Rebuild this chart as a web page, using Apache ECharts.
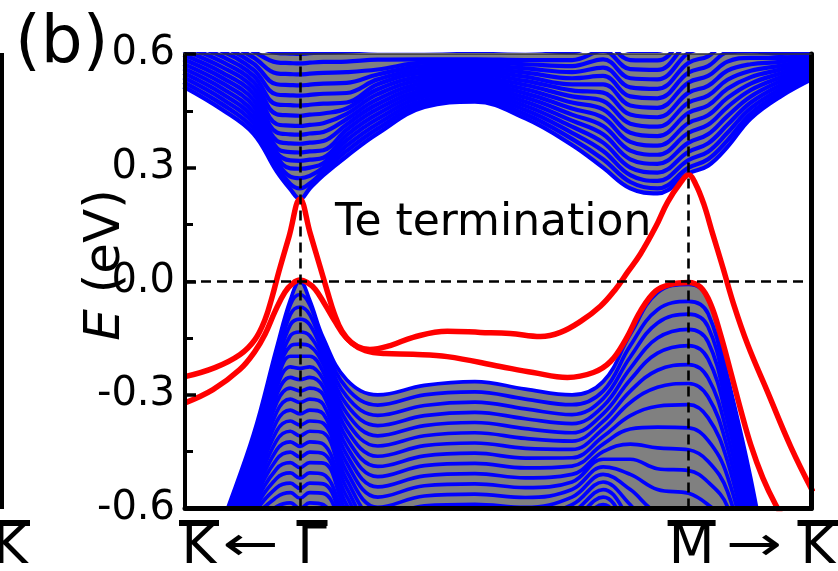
<!DOCTYPE html>
<html>
<head>
<meta charset="utf-8">
<script src="https://cdn.jsdelivr.net/npm/echarts@6/dist/echarts.min.js"></script>
<style>
  html, body { margin: 0; padding: 0; background: #fff; }
  #chart { width: 838px; height: 571px; }
</style>
</head>
<body>
<div id="chart"></div>
<script>
// Path coordinate along K̄ ← Γ̄ → M̄ → K̄ : Γ̄ = 0, M̄ = 1
const kMin = -0.296;
const kMax = 1.315;

// Sampling points along the path shared by all bulk bands
const kGrid = [-0.30, -0.20, -0.12, -0.06, -0.025, 0, 0.025, 0.06, 0.12, 0.20, 0.32, 0.45,
               0.58, 0.70, 0.78, 0.85, 0.92, 1.0, 1.05, 1.10, 1.16, 1.24, 1.32];

// Bulk valence sub-bands (eV), top band first
const valenceBands = [
  [-0.95,-0.64,-0.405,-0.175,-0.05,0,-0.05,-0.15,-0.26,-0.30,-0.275,-0.265,-0.285,-0.30,-0.265,-0.14,-0.03,-0.008,-0.045,-0.25,-0.52,-0.95,-1.3],
  [-0.96,-0.65,-0.417,-0.19,-0.062,-0.035,-0.062,-0.16,-0.282,-0.327,-0.30,-0.292,-0.311,-0.326,-0.29,-0.17,-0.075,-0.053,-0.085,-0.28,-0.55,-0.98,-1.33],
  [-0.97,-0.66,-0.429,-0.205,-0.088,-0.068,-0.088,-0.175,-0.304,-0.354,-0.328,-0.319,-0.337,-0.352,-0.31,-0.20,-0.11,-0.087,-0.12,-0.31,-0.58,-1.01,-1.36],
  [-0.98,-0.67,-0.441,-0.22,-0.115,-0.10,-0.115,-0.19,-0.326,-0.381,-0.355,-0.346,-0.363,-0.376,-0.33,-0.23,-0.15,-0.127,-0.16,-0.34,-0.61,-1.04,-1.39],
  [-0.99,-0.68,-0.453,-0.235,-0.144,-0.134,-0.144,-0.205,-0.348,-0.408,-0.381,-0.373,-0.389,-0.40,-0.35,-0.26,-0.19,-0.17,-0.205,-0.37,-0.64,-1.07,-1.42],
  [-1.0,-0.69,-0.465,-0.25,-0.171,-0.166,-0.171,-0.22,-0.37,-0.435,-0.408,-0.40,-0.415,-0.422,-0.37,-0.29,-0.235,-0.22,-0.255,-0.405,-0.67,-1.1,-1.45],
  [-1.01,-0.70,-0.477,-0.265,-0.198,-0.198,-0.198,-0.24,-0.392,-0.462,-0.434,-0.427,-0.441,-0.444,-0.39,-0.32,-0.28,-0.27,-0.305,-0.44,-0.70,-1.13,-1.48],
  [-1.02,-0.71,-0.489,-0.28,-0.226,-0.23,-0.226,-0.26,-0.414,-0.489,-0.461,-0.454,-0.467,-0.466,-0.41,-0.355,-0.33,-0.326,-0.36,-0.475,-0.73,-1.16,-1.51],
  [-1.03,-0.72,-0.501,-0.30,-0.254,-0.26,-0.254,-0.28,-0.436,-0.516,-0.487,-0.481,-0.493,-0.488,-0.43,-0.39,-0.385,-0.387,-0.42,-0.515,-0.76,-1.19,-1.54],
  [-1.04,-0.73,-0.513,-0.32,-0.282,-0.29,-0.282,-0.30,-0.458,-0.543,-0.514,-0.508,-0.519,-0.51,-0.45,-0.43,-0.44,-0.445,-0.475,-0.555,-0.79,-1.22,-1.57],
  [-1.05,-0.74,-0.525,-0.345,-0.311,-0.32,-0.311,-0.325,-0.48,-0.57,-0.54,-0.535,-0.545,-0.53,-0.47,-0.47,-0.495,-0.50,-0.53,-0.595,-0.82,-1.25,-1.6],
  [-1.06,-0.75,-0.537,-0.37,-0.34,-0.35,-0.34,-0.35,-0.502,-0.597,-0.567,-0.562,-0.571,-0.55,-0.49,-0.51,-0.55,-0.56,-0.59,-0.64,-0.85,-1.28,-1.63],
  [-1.07,-0.76,-0.549,-0.395,-0.369,-0.38,-0.369,-0.375,-0.524,-0.624,-0.593,-0.589,-0.597,-0.57,-0.51,-0.55,-0.61,-0.62,-0.65,-0.685,-0.88,-1.31,-1.66],
  [-1.08,-0.77,-0.561,-0.42,-0.396,-0.408,-0.396,-0.40,-0.546,-0.651,-0.62,-0.616,-0.623,-0.59,-0.53,-0.59,-0.67,-0.68,-0.71,-0.73,-0.91,-1.34,-1.69],
  [-1.09,-0.78,-0.573,-0.445,-0.424,-0.436,-0.424,-0.43,-0.568,-0.678,-0.646,-0.643,-0.649,-0.61,-0.55,-0.63,-0.73,-0.74,-0.77,-0.775,-0.94,-1.37,-1.72],
  [-1.1,-0.79,-0.585,-0.47,-0.451,-0.464,-0.451,-0.455,-0.59,-0.705,-0.673,-0.67,-0.675,-0.63,-0.57,-0.67,-0.79,-0.80,-0.83,-0.85,-0.97,-1.4,-1.75],
  [-1.11,-0.80,-0.597,-0.495,-0.479,-0.492,-0.479,-0.48,-0.612,-0.732,-0.70,-0.697,-0.70,-0.65,-0.59,-0.71,-0.85,-0.86,-0.89,-0.92,-1.0,-1.43,-1.78],
  [-1.12,-0.81,-0.609,-0.52,-0.506,-0.52,-0.506,-0.51,-0.634,-0.759,-0.726,-0.724,-0.727,-0.67,-0.61,-0.75,-0.91,-0.92,-0.95,-0.97,-1.03,-1.46,-1.81],
  [-1.13,-0.82,-0.621,-0.545,-0.533,-0.547,-0.533,-0.535,-0.656,-0.786,-0.752,-0.751,-0.753,-0.69,-0.63,-0.79,-0.97,-0.98,-1.01,-1.02,-1.06,-1.49,-1.84],
  [-1.14,-0.83,-0.633,-0.57,-0.558,-0.573,-0.558,-0.56,-0.678,-0.813,-0.78,-0.778,-0.779,-0.71,-0.65,-0.83,-1.03,-1.04,-1.07,-1.07,-1.09,-1.52,-1.87],
  [-1.15,-0.84,-0.645,-0.595,-0.585,-0.60,-0.585,-0.59,-0.70,-0.84,-0.805,-0.805,-0.805,-0.73,-0.67,-0.87,-1.09,-1.1,-1.13,-1.12,-1.15,-1.55,-1.9]
];

// Bulk conduction sub-bands (eV), lowest band first
const conductionBands = [
  [0.514,0.453,0.39,0.29,0.243,0.217,0.245,0.28,0.33,0.39,0.46,0.474,0.43,0.36,0.30,0.245,0.232,0.285,0.305,0.355,0.43,0.49,0.535],
  [0.526,0.467,0.404,0.303,0.257,0.245,0.258,0.29,0.344,0.403,0.469,0.482,0.441,0.376,0.322,0.262,0.245,0.30,0.322,0.372,0.443,0.50,0.542],
  [0.538,0.481,0.418,0.316,0.276,0.272,0.278,0.30,0.358,0.416,0.478,0.49,0.452,0.392,0.344,0.28,0.265,0.32,0.342,0.392,0.457,0.51,0.549],
  [0.55,0.495,0.432,0.328,0.298,0.297,0.30,0.312,0.372,0.429,0.487,0.498,0.463,0.408,0.366,0.30,0.287,0.342,0.364,0.413,0.472,0.52,0.556],
  [0.562,0.509,0.447,0.339,0.319,0.318,0.321,0.326,0.386,0.442,0.496,0.506,0.474,0.424,0.388,0.322,0.31,0.366,0.388,0.436,0.488,0.53,0.563],
  [0.574,0.523,0.463,0.352,0.341,0.34,0.343,0.346,0.40,0.455,0.505,0.514,0.485,0.44,0.41,0.345,0.334,0.392,0.413,0.46,0.505,0.54,0.57],
  [0.586,0.537,0.479,0.371,0.364,0.363,0.366,0.37,0.414,0.468,0.514,0.522,0.496,0.456,0.432,0.368,0.358,0.418,0.438,0.484,0.522,0.55,0.577],
  [0.598,0.551,0.495,0.393,0.388,0.387,0.39,0.394,0.428,0.481,0.523,0.53,0.507,0.472,0.454,0.392,0.383,0.445,0.464,0.508,0.539,0.56,0.584],
  [0.61,0.565,0.511,0.415,0.411,0.41,0.413,0.417,0.442,0.494,0.532,0.538,0.518,0.488,0.476,0.416,0.408,0.472,0.49,0.532,0.556,0.57,0.591],
  [0.622,0.579,0.527,0.441,0.438,0.437,0.44,0.443,0.456,0.507,0.541,0.546,0.529,0.504,0.498,0.44,0.433,0.498,0.516,0.556,0.573,0.58,0.598],
  [0.634,0.593,0.543,0.467,0.465,0.464,0.466,0.469,0.472,0.52,0.55,0.554,0.54,0.52,0.52,0.464,0.458,0.525,0.542,0.58,0.59,0.59,0.605],
  [0.646,0.607,0.559,0.493,0.491,0.49,0.492,0.495,0.497,0.533,0.559,0.562,0.551,0.536,0.542,0.488,0.483,0.551,0.568,0.604,0.607,0.60,0.612],
  [0.658,0.621,0.575,0.52,0.518,0.517,0.519,0.522,0.524,0.546,0.568,0.57,0.562,0.552,0.564,0.512,0.508,0.577,0.594,0.628,0.624,0.61,0.619],
  [0.67,0.635,0.591,0.549,0.547,0.546,0.548,0.55,0.552,0.559,0.577,0.578,0.573,0.568,0.586,0.536,0.533,0.603,0.62,0.652,0.641,0.62,0.626],
  [0.682,0.649,0.607,0.578,0.576,0.575,0.577,0.579,0.58,0.585,0.586,0.586,0.584,0.584,0.608,0.56,0.558,0.63,0.646,0.676,0.658,0.63,0.633],
  [0.694,0.663,0.623,0.603,0.601,0.60,0.602,0.604,0.606,0.61,0.61,0.608,0.61,0.605,0.63,0.584,0.583,0.656,0.672,0.70,0.675,0.64,0.64],
  [0.706,0.677,0.639,0.633,0.631,0.63,0.632,0.634,0.635,0.64,0.63,0.625,0.63,0.63,0.652,0.608,0.608,0.682,0.698,0.724,0.692,0.65,0.647]
];

// Surface-state branch starting lower at the left edge (through Γ̄ at E ≈ 0, up to M̄ at 0.28)
const stateAk = [-0.296,-0.224,-0.155,-0.116,-0.090,-0.064,-0.039,-0.018,0,0.018,0.039,0.064,0.090,0.116,0.147,0.180,0.232,0.291,0.379,0.464,0.541,0.619,0.670,0.722,0.773,0.812,0.843,0.876,0.915,0.946,0.979,1.0,1.018,1.039,1.062,1.088,1.116,1.152,1.204,1.263,1.320];
const stateAE = [-0.321,-0.286,-0.233,-0.185,-0.140,-0.079,-0.029,-0.005,0.003,-0.003,-0.021,-0.061,-0.106,-0.146,-0.172,-0.180,-0.170,-0.148,-0.132,-0.135,-0.138,-0.146,-0.135,-0.106,-0.066,-0.021,0.024,0.072,0.143,0.209,0.260,0.281,0.257,0.204,0.125,0.037,-0.061,-0.167,-0.294,-0.437,-0.556];

// Surface-state branch starting higher at the left edge (Dirac point at Γ̄, ≈ 0 at M̄)
const stateBk = [-0.296,-0.219,-0.155,-0.116,-0.090,-0.072,-0.054,-0.028,0,0.026,0.052,0.070,0.088,0.108,0.134,0.168,0.219,0.291,0.379,0.515,0.600,0.688,0.755,0.799,0.838,0.876,0.915,0.954,1.0,1.031,1.057,1.082,1.108,1.134,1.160,1.191,1.224,1.263];
const stateBE = [-0.252,-0.228,-0.194,-0.154,-0.101,-0.042,0.027,0.119,0.217,0.127,0.037,-0.026,-0.085,-0.132,-0.164,-0.183,-0.191,-0.193,-0.199,-0.225,-0.241,-0.254,-0.241,-0.212,-0.154,-0.079,-0.026,-0.008,-0.003,-0.016,-0.061,-0.140,-0.238,-0.339,-0.432,-0.519,-0.590,-0.657];

// Energy axis ticks and labels
const yTicks = [-0.6, -0.3, 0.0, 0.3, 0.6];
const yTickLabels = ['-0.6', '-0.3', '0.0', '0.3', '0.6'];

// High-symmetry points along the path
const symK = [kMin, 0, 1, kMax];
const symLabels = ['K', 'Γ', 'M', 'K'];

const pairs = (xs, ys) => xs.map((x, i) => [x, ys[i]]);

const BLUE = '#0000ff', GRAY = '#808080', RED = '#ff0000';
const FONT = '"DejaVu Sans", "Liberation Sans", sans-serif';
const SMOOTH = 0.4;

const chart = echarts.init(document.getElementById('chart'), null, { renderer: 'canvas' });

const series = [];
// Gray backgrounds of the projected bulk bands
series.push({
  type: 'line', data: pairs(kGrid, valenceBands[0]), smooth: SMOOTH,
  showSymbol: false, silent: true, z: 1,
  lineStyle: { width: 0 }, areaStyle: { color: GRAY, opacity: 1, origin: 'start' }
});
series.push({
  type: 'line', data: pairs(kGrid, conductionBands[0]), smooth: SMOOTH,
  showSymbol: false, silent: true, z: 1,
  lineStyle: { width: 0 }, areaStyle: { color: GRAY, opacity: 1, origin: 'end' }
});
// Bulk sub-bands
valenceBands.forEach(b => {
  series.push({
    type: 'line', data: pairs(kGrid, b), smooth: SMOOTH,
    showSymbol: false, silent: true, z: 2,
    lineStyle: { color: BLUE, width: 3.7 }
  });
});
conductionBands.forEach(b => {
  series.push({
    type: 'line', data: pairs(kGrid, b), smooth: SMOOTH,
    showSymbol: false, silent: true, z: 2,
    lineStyle: { color: BLUE, width: 4.2 }
  });
});
// Surface states
[[stateAk, stateAE], [stateBk, stateBE]].forEach(([k, e]) => {
  series.push({
    type: 'line', data: pairs(k, e), smooth: SMOOTH,
    showSymbol: false, silent: true, z: 3,
    lineStyle: { color: RED, width: 5.5 }
  });
});
// Dashed guides at Γ̄, M̄ and the Fermi level
series.push({
  type: 'line', data: [], z: 4, silent: true,
  markLine: {
    silent: true, symbol: ['none', 'none'], animation: false,
    label: { show: false },
    lineStyle: { color: '#000', width: 2.6, type: [10, 6] },
    data: [{ xAxis: symK[1] }, { xAxis: symK[2] }, { yAxis: 0 }]
  }
});

chart.setOption({
  animation: false,
  backgroundColor: '#fff',
  grid: { left: 185, right: 27, top: 54, bottom: 62.5 },
  xAxis: [
    { type: 'value', min: kMin, max: kMax, position: 'bottom', z: 10,
      axisLine: { show: true, onZero: false, lineStyle: { color: '#000', width: 5 } },
      axisTick: { show: false }, axisLabel: { show: false }, splitLine: { show: false } },
    { type: 'value', min: kMin, max: kMax, position: 'top', z: 10,
      axisLine: { show: true, onZero: false, lineStyle: { color: '#333', width: 1.5 } },
      axisTick: { show: false }, axisLabel: { show: false }, splitLine: { show: false } }
  ],
  yAxis: [
    { type: 'value', min: -0.6, max: 0.6, interval: 0.3, position: 'left', z: 10,
      axisLine: { show: true, onZero: false, lineStyle: { color: '#000', width: 4 } },
      axisTick: { show: true, inside: true, length: 11, lineStyle: { color: '#000', width: 3.5 } },
      minorTick: { show: true, splitNumber: 2, length: 8, lineStyle: { color: '#000', width: 3 } },
      axisLabel: {
        margin: 10, color: '#000', fontSize: 40, fontFamily: FONT,
        formatter: v => {
          const i = yTicks.findIndex(t => Math.abs(t - v) < 1e-6);
          return i >= 0 ? yTickLabels[i] : '';
        }
      },
      splitLine: { show: false } },
    { type: 'value', min: -0.6, max: 0.6, interval: 0.3, position: 'right', z: 10,
      axisLine: { show: true, onZero: false, lineStyle: { color: '#000', width: 5 } },
      axisTick: { show: false }, axisLabel: { show: false }, splitLine: { show: false } }
  ],
  series: series
});

// Path labels under the axis, each with an overbar
const px = k => chart.convertToPixel({ xAxisIndex: 0 }, k);
const labelY = 549;
const barTop = 520, barH = 6;
const symCenters = [px(symK[0]) + 14, px(symK[1]) + 12, px(symK[2]) + 3, px(symK[3]) + 7];
const barWidths = [40, 31, 48, 41];
const graphics = [];
symLabels.forEach((t, i) => {
  graphics.push({ type: 'text', x: symCenters[i], y: labelY, z: 20,
    style: { text: t, fontSize: 53, fontFamily: FONT, fill: '#000', align: 'center', verticalAlign: 'middle' } });
  graphics.push({ type: 'rect', z: 20,
    shape: { x: symCenters[i] - barWidths[i] / 2, y: barTop, width: barWidths[i], height: barH },
    style: { fill: '#000' } });
});
graphics.push({ type: 'text', x: 251, y: labelY - 1, scaleX: 1.4, z: 20,
  style: { text: '←', fontSize: 48, fontFamily: FONT, fill: '#000', align: 'center', verticalAlign: 'middle' } });
graphics.push({ type: 'text', x: 754, y: labelY - 1, scaleX: 1.4, z: 20,
  style: { text: '→', fontSize: 48, fontFamily: FONT, fill: '#000', align: 'center', verticalAlign: 'middle' } });

// Panel tag, annotation and energy axis title
graphics.push({ type: 'text', x: 15, y: 45, z: 20,
  style: { text: '(b)', fontSize: 66, fontFamily: FONT, fill: '#000', align: 'left', verticalAlign: 'middle' } });
graphics.push({ type: 'text', x: 335, y: 224, z: 20,
  style: { text: 'Te termination', fontSize: 44, fontFamily: FONT, fill: '#000', align: 'left', verticalAlign: 'middle' } });
graphics.push({ type: 'text', x: 106, y: 265, rotation: Math.PI / 2, z: 20,
  style: { text: '{i|E} (eV)', fontSize: 50, fontFamily: FONT, fill: '#000', align: 'center', verticalAlign: 'middle',
    rich: { i: { fontStyle: 'italic', fontSize: 50, fontFamily: FONT, fill: '#000' } } } });

// Edge of the neighbouring panel
graphics.push({ type: 'line', z: 20, shape: { x1: 2, y1: 53, x2: 2, y2: 509 }, style: { stroke: '#000', lineWidth: 4 } });
graphics.push({ type: 'text', x: -7, y: labelY, z: 20,
  style: { text: 'K', fontSize: 53, fontFamily: FONT, fill: '#000', align: 'left', verticalAlign: 'middle' } });
graphics.push({ type: 'rect', z: 20, shape: { x: 0, y: barTop, width: 30, height: barH }, style: { fill: '#000' } });

chart.setOption({ graphic: graphics });
</script>
</body>
</html>
